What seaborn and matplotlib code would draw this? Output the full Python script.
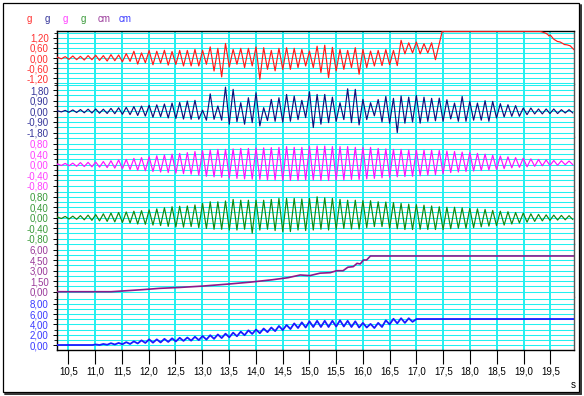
import numpy as np
import pandas as pd
import matplotlib
matplotlib.use("Agg")
import matplotlib.pyplot as plt
from matplotlib.ticker import MultipleLocator, FuncFormatter
from matplotlib.patches import Rectangle
from matplotlib.lines import Line2D
import seaborn as sns

# ---------------- data ----------------
T0 = 10.30          # time of first oscillation peak (s)
PERIOD = 0.1425     # oscillation period (s)

red_peaks = [.05, .08, .12, .10, .14, .16, .14, .20, .18, .26, .40, .30, .44, .40, .46, .38, .45,
             .45, .51, .45, .66, .57, .86, .51, .57, .57, .66, .61, .45, .57, .61, .57, .51, .41,
             .70, .76, .63, .51, .45, .61, .51, .41,
             .45, .50, .45, 1.05, .90, .95, .85, .90]
red_troughs = [-.05, -.08, -.10, -.12, -.10, -.14, -.18, -.16, -.22, -.20, -.36, -.28, -.40, -.30, -.42, -.38, -.47,
               -.47, -.47, -.37, -.77, -1.12, -.53, -.37, -.57, -.47, -1.26, -.67, -.76, -.67, -.67, -.57, -.47,
               -.57, -.86, -1.16, -.76, -.67, -.57, -.96, -.57, -.47,
               -.45, -.40, -.45, .25, .30, .25, .30, -.10]
red_tail_t = [17.48, 19.30, 19.34, 19.41, 19.45, 19.47, 19.50, 19.56, 19.63, 19.68, 19.72, 19.76, 19.81, 19.87, 19.94]
red_tail_v = [1.58, 1.58, 1.55, 1.47, 1.40, 1.31, 1.35, 1.12, 0.98, 0.95, 0.88, 0.80, 0.78, 0.72, 0.49]

navy_peaks = [.05, .08, .12, .15, .18, .20, .18, .25, .30, .34, .40, .45, .51, .55, .62, .70, .75,
              .87, .93, .10, 1.48, .45, 2.05, 1.86, .73, 1.15, 1.57, .31, 1.01, 1.15, 1.43, 1.29, .93,
              1.66, 1.43, 1.43, 1.20, .73, 1.91, 1.86, 1.01, .73,
              1.00, 1.26, 1.10, 1.30, 1.20, 1.34, 1.20, 1.10,
              1.12, .98, .70, 1.26, .84, .70, .90, .84, .65, .56, .48, .28, .28, .20, .20, .20, .14, .14]
navy_troughs = [-.05, -.08, -.10, -.12, -.14, -.16, -.18, -.20, -.25, -.28, -.35, -.40, -.50, -.45, -.56, -.60, -.65,
                -.67, -.67, -.75, -.67, -.75, -1.09, -.87, -1.09, -.95, -1.23, -.78, -.84, -.92, -.84, -.70, -.53,
                -1.37, -1.09, -.95, -.84, -.70, -.95, -1.15, -.70, -.38,
                -.90, -1.00, -1.80, -1.00, -.90, -1.00, -.85, -.80,
                -.84, -.64, -.84, -.84, -.75, -.75, -.84, -.56, -.47, -.42, -.42, -.28, -.22, -.22, -.19, -.19, -.14, -.14]

mag_peaks = [.03, .05, .06, .08, .09, .10, .12, .15, .18, .20, .24, .27, .30, .34, .37, .40, .43,
             .46, .50, .53, .56, .58, .58, .60, .62, .62, .64, .64, .65, .66, .69, .66, .66, .69, .71, .71,
             .69, .69, .69, .66, .66, .66, .62,
             .60, .58, .58, .56, .56, .55, .55,
             .54, .52, .50, .48, .46, .43, .40, .36, .33, .30, .27, .25, .22, .20, .18, .16, .15, .14]
mag_troughs = [-.03, -.04, -.06, -.07, -.08, -.09, -.11, -.13, -.15, -.18, -.21, -.23, -.26, -.28, -.30, -.32, -.34,
               -.36, -.40, -.44, -.46, -.48, -.50, -.52, -.54, -.55, -.56, -.58, -.58, -.60, -.60, -.60, -.58,
               -.58, -.60, -.60, -.58, -.58, -.56, -.56, -.54, -.52, -.50,
               -.48, -.46, -.45, -.44, -.42, -.40, -.38,
               -.34, -.30, -.28, -.26, -.24, -.22, -.20, -.18, -.15, -.12, -.10, -.08, -.06, -.04, -.03, -.02, .00, .00]

grn_peaks = [.03, .05, .06, .08, .10, .12, .15, .18, .20, .22, .25, .27, .30, .34, .38, .42, .44,
             .45, .49, .55, .61, .61, .64, .70, .67, .67, .67, .67, .70, .74, .74, .74, .72, .74, .80, .76,
             .74, .70, .67, .67, .65, .65, .61,
             .60, .58, .55, .52, .50, .48, .45,
             .42, .40, .40, .38, .36, .34, .32, .28, .25, .23, .20, .18, .15, .13, .11, .10, .09, .08]
grn_troughs = [-.03, -.05, -.06, -.08, -.10, -.12, -.14, -.16, -.18, -.20, -.24, -.25, -.28, -.30, -.33, -.35, -.36,
               -.34, -.38, -.41, -.44, -.44, -.47, -.47, -.44, -.59, -.47, -.44, -.49, -.53, -.53, -.47, -.49,
               -.47, -.44, -.47, -.44, -.41, -.43, -.43, -.38, -.34, -.34,
               -.40, -.42, -.45, -.45, -.44, -.45, -.45,
               -.45, -.42, -.40, -.40, -.38, -.35, -.32, -.30, -.28, -.24, -.20, -.17, -.14, -.12, -.10, -.09, -.08, -.07]

pur_t = [10.29, 11.30, 11.60, 11.90, 12.20, 12.60, 13.00, 13.50, 13.90, 14.30, 14.60, 14.83, 15.01, 15.20,
         15.39, 15.51, 15.63, 15.72, 15.82, 15.89, 15.95, 16.01, 16.07, 16.14, 19.95]
pur_v = [0.0, 0.0, 0.15, 0.30, 0.48, 0.62, 0.80, 1.10, 1.37, 1.70, 2.00, 2.39, 2.30, 2.65,
         2.72, 3.00, 3.00, 3.50, 3.58, 4.05, 3.96, 4.53, 4.53, 5.10, 5.10]

BLUE_FIRST_CYCLE = 5
blue_peaks = [.10, .20, .35, .40, .55, .70, .90, 1.10, 1.10, 1.20, 1.30, 1.40, 1.45, 1.60, 1.75, 1.90, 2.05,
              2.20, 2.40, 2.60, 2.85, 3.00, 3.20, 3.40, 3.70, 3.90, 4.20, 4.40, 4.60, 4.70, 4.70, 4.70, 4.80,
              4.70, 4.60, 4.30, 4.10, 4.30, 4.80, 5.10, 5.20, 5.20]
blue_troughs = [0.00, .05, .10, .15, .20, .30, .40, .45, .50, .60, .70, .80, .85, .95, 1.05, 1.20, 1.35,
                1.50, 1.70, 1.90, 2.15, 2.30, 2.50, 2.70, 2.90, 3.10, 3.30, 3.40, 3.50, 3.50, 3.50, 3.60, 3.60,
                3.50, 3.40, 3.40, 3.30, 3.50, 4.00, 4.20, 4.30, 4.50]
blue_head_t = [10.29, 10.95]
blue_head_v = [0.0, 0.0]
blue_tail_t = [17.00, 19.95]
blue_tail_v = [5.05, 5.05]

units = ["g", "g", "g", "g", "cm", "cm"]
line_colors = ["#ff1a1a", "#10107a", "#ff10ff", "#118811", "#8a1a8a", "#1a1aff"]
label_colors = ["#ff3030", "#35359a", "#ff40ff", "#3a9a3a", "#9a3a9a", "#3a3aff"]
y_limits = [(-1.55, 1.60), (-2.20, 2.30), (-0.98, 1.04), (-0.99, 1.04), (-0.73, 6.86), (-0.97, 9.36)]
y_steps = [0.6, 0.9, 0.4, 0.4, 1.5, 2.0]
y_ticks = [[-1.2, -0.6, 0, 0.6, 1.2], [-1.8, -0.9, 0, 0.9, 1.8], [-0.8, -0.4, 0, 0.4, 0.8],
           [-0.8, -0.4, 0, 0.4, 0.8], [0, 1.5, 3.0, 4.5, 6.0], [0, 2, 4, 6, 8]]
x_ticks = [10.5, 11.0, 11.5, 12.0, 12.5, 13.0, 13.5, 14.0, 14.5, 15.0, 15.5, 16.0, 16.5, 17.0,
           17.5, 18.0, 18.5, 19.0, 19.5]
x_limits = (10.29, 19.94)
line_widths = [0.85, 0.85, 0.85, 0.85, 1.2, 1.3]


def extrema(first_cycle, peaks, troughs):
    k = np.arange(first_cycle, first_cycle + len(peaks))
    tp = T0 + PERIOD * k
    t = np.column_stack([tp, tp + PERIOD / 2]).ravel()
    v = np.column_stack([peaks, troughs]).ravel()
    return t, v


def frame(t, v):
    return pd.DataFrame({"t": np.asarray(t, float), "v": np.asarray(v, float)})


rt, rv = extrema(0, red_peaks, red_troughs)
red_df = frame(np.r_[x_limits[0], rt, red_tail_t], np.r_[0.0, rv, red_tail_v])
nt, nv = extrema(0, navy_peaks, navy_troughs)
navy_df = frame(np.r_[x_limits[0], nt], np.r_[0.0, nv])
mt, mv = extrema(0, mag_peaks, mag_troughs)
mag_df = frame(np.r_[x_limits[0], mt], np.r_[0.0, mv])
gt, gv = extrema(0, grn_peaks, grn_troughs)
grn_df = frame(np.r_[x_limits[0], gt], np.r_[0.0, gv])
pur_df = frame(pur_t, pur_v)
bt, bv = extrema(BLUE_FIRST_CYCLE, blue_peaks, blue_troughs)
blue_df = frame(np.r_[blue_head_t, bt, blue_tail_t], np.r_[blue_head_v, bv, blue_tail_v])
frames = [red_df, navy_df, mag_df, grn_df, pur_df, blue_df]

# ---------------- plotting ----------------
sns.set_style("white")
plt.rcParams["font.family"] = ["Liberation Sans", "DejaVu Sans"]

W, H = 584, 396
fig = plt.figure(figsize=(W / 100, H / 100), dpi=100)
left, right, top, bottom = 57, 574, 31, 350
ph = (bottom - top) / 6
CYAN = "#22f0f0"

fmt = FuncFormatter(lambda v, p: f"{v:.2f}".replace(".", ","))
axes = []
for i in range(6):
    y0 = top + i * ph
    ax = fig.add_axes([left / W, 1 - (y0 + ph) / H, (right - left) / W, ph / H],
                      sharex=axes[0] if axes else None)
    axes.append(ax)
    sns.lineplot(data=frames[i], x="t", y="v", ax=ax, color=line_colors[i], linewidth=line_widths[i],
                 estimator=None, sort=False, legend=False, zorder=3)
    ax.set_xlim(*x_limits)
    ax.set_ylim(*y_limits[i])
    ax.set_yticks(y_ticks[i])
    ax.yaxis.set_major_formatter(fmt)
    ax.yaxis.set_minor_locator(MultipleLocator(y_steps[i] / 2))
    ax.set_xticks(x_ticks)
    ax.set_xlabel("")
    ax.set_ylabel("")
    ax.set_axisbelow(True)
    ax.grid(True, which="both", axis="y", color=CYAN, linewidth=0.75)
    ax.grid(True, which="major", axis="x", color=CYAN, linewidth=1.4)
    ax.tick_params(axis="y", which="major", direction="out", length=3, width=0.7, color="black",
                   labelsize=7, labelcolor=label_colors[i], pad=3, left=True)
    ax.tick_params(axis="y", which="minor", direction="out", length=2, width=0.6, color="black", left=True)
    for s in ["top", "bottom"]:
        ax.spines[s].set_visible(False)
    ax.spines["left"].set_color("black")
    ax.spines["left"].set_linewidth(1.0)
    ax.spines["right"].set_color("#555555")
    ax.spines["right"].set_linewidth(1.0)
    if i == 0:
        ax.spines["top"].set_visible(True)
        ax.spines["top"].set_color("black")
        ax.spines["top"].set_linewidth(1.0)
    if i < 5:
        ax.tick_params(axis="x", which="both", length=0, labelbottom=False)
    else:
        ax.spines["bottom"].set_visible(True)
        ax.spines["bottom"].set_color("black")
        ax.spines["bottom"].set_linewidth(1.0)
        ax.xaxis.set_major_formatter(FuncFormatter(lambda v, p: f"{v:.1f}".replace(".", ",")))
        ax.tick_params(axis="x", which="major", direction="out", length=10, width=0.8,
                       color="black", labelsize=7, labelcolor="black", pad=2, bottom=True)

# unit labels at top
unit_x = [29, 47, 65, 83, 104, 125]
for ux, u, c in zip(unit_x, units, label_colors):
    fig.text(ux / W, 1 - 19 / H, u, color=c, fontsize=7, ha="center", va="center")
fig.text(573 / W, 1 - 385 / H, "s", color="black", fontsize=7, ha="center", va="center")

# outer frame with shadow
fig.add_artist(Rectangle((3 / W, 1 - 392 / H), 576 / W, 389 / H, transform=fig.transFigure,
                         fill=False, ec="black", lw=0.9))
fig.add_artist(Line2D([580.5 / W, 580.5 / W], [1 - 5 / H, 1 - 394 / H], transform=fig.transFigure,
                      color="#333333", lw=1.4))
fig.add_artist(Line2D([5 / W, 580.5 / W], [1 - 393.5 / H, 1 - 393.5 / H], transform=fig.transFigure,
                      color="#333333", lw=1.4))

fig.savefig("out.png", dpi=100)
